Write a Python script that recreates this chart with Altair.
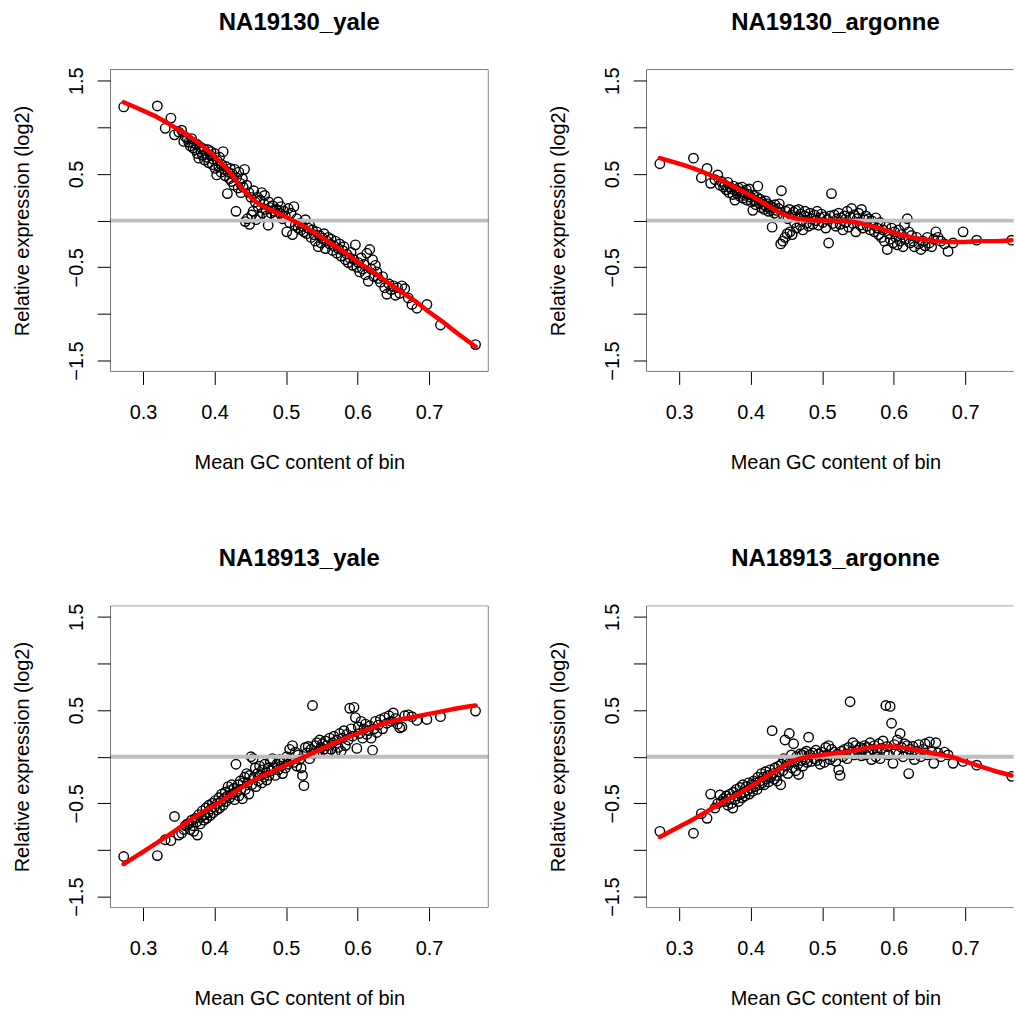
import altair as alt
import pandas as pd

FONT = "Liberation Sans"

# shared bin GC content (x) for all four panels
gc_mean = [
    0.273, 0.320, 0.331, 0.339, 0.344, 0.350, 0.354, 0.357, 0.359, 0.362,
    0.364, 0.366, 0.368, 0.370, 0.371, 0.373, 0.375, 0.376, 0.378, 0.380,
    0.381, 0.383, 0.385, 0.386, 0.388, 0.389, 0.391, 0.392, 0.394, 0.395,
    0.397, 0.398, 0.400, 0.401, 0.403, 0.404, 0.406, 0.407, 0.409, 0.410,
    0.412, 0.413, 0.415, 0.416, 0.418, 0.419, 0.421, 0.422, 0.424, 0.425,
    0.427, 0.428, 0.430, 0.431, 0.433, 0.434, 0.436, 0.437, 0.439, 0.440,
    0.442, 0.443, 0.445, 0.446, 0.448, 0.449, 0.451, 0.452, 0.454, 0.455,
    0.457, 0.458, 0.460, 0.461, 0.463, 0.464, 0.466, 0.467, 0.469, 0.470,
    0.472, 0.473, 0.475, 0.476, 0.478, 0.479,
    0.481, 0.483, 0.485, 0.487, 0.489, 0.491, 0.493, 0.495, 0.497, 0.499,
    0.501, 0.503, 0.505, 0.507, 0.509, 0.511, 0.513, 0.515, 0.517, 0.519,
    0.521, 0.523, 0.525, 0.527, 0.529, 0.531, 0.533, 0.535, 0.537, 0.539,
    0.541, 0.543, 0.545, 0.547, 0.549, 0.551, 0.553, 0.555, 0.557, 0.559,
    0.561, 0.563, 0.565, 0.567, 0.569, 0.571, 0.573, 0.575, 0.577, 0.579,
    0.581, 0.583, 0.585, 0.587, 0.589, 0.591, 0.593, 0.595, 0.597, 0.599,
    0.601, 0.603, 0.605, 0.607, 0.609, 0.611, 0.613, 0.615, 0.617, 0.619,
    0.621, 0.623, 0.625, 0.627, 0.629, 0.632, 0.635, 0.638, 0.641, 0.644,
    0.647, 0.650, 0.653, 0.656, 0.659,
    0.662, 0.666, 0.671, 0.676, 0.683, 0.697, 0.716, 0.765,
]

na19130_yale = [
    1.22, 1.23, 0.99, 1.10, 0.92, 0.95, 0.97, 0.85, 0.90, 0.88,
    0.84, 0.80, 0.88, 0.78, 0.83, 0.76, 0.82, 0.72, 0.67, 0.79,
    0.74, 0.70, 0.77, 0.65, 0.72, 0.68, 0.76, 0.62, 0.70, 0.74,
    0.60, 0.66, 0.72, 0.56, 0.49, 0.64, 0.58, 0.68, 0.52, 0.60,
    0.74, 0.55, 0.48, 0.58, 0.29, 0.52, 0.45, 0.56, 0.42, 0.50,
    0.38, 0.55, 0.10, 0.46, 0.35, 0.52, 0.40, 0.30, 0.45, 0.36,
    0.55, -0.01, 0.38, 0.02, 0.30, -0.04, 0.25, 0.06, 0.10, 0.32,
    0.20, 0.01, 0.25, 0.15, 0.04, 0.22, 0.30, 0.08, 0.18, 0.27,
    0.12, 0.05, -0.05, 0.20, 0.14, 0.08,
    0.16, 0.10, 0.05, 0.12, 0.20, 0.08, 0.15, 0.02, 0.10, 0.05,
    -0.12, 0.13, -0.02, 0.08, -0.15, 0.15, -0.05, 0.02, -0.08, -0.03,
    -0.10, -0.06, -0.12, 0.01, -0.14, -0.08, -0.05, -0.18, -0.10, -0.15,
    -0.22, -0.12, -0.28, -0.16, -0.24, -0.19, -0.14, -0.30, -0.22, -0.18,
    -0.25, -0.20, -0.32, -0.27, -0.22, -0.35, -0.30, -0.25, -0.38, -0.32,
    -0.28, -0.42, -0.36, -0.45, -0.40, -0.34, -0.48, -0.42, -0.26, -0.50,
    -0.45, -0.55, -0.40, -0.52, -0.47, -0.58, -0.35, -0.65, -0.31, -0.52,
    -0.42, -0.60, -0.48, -0.55, -0.62, -0.66, -0.60, -0.72, -0.79, -0.68,
    -0.74, -0.70, -0.80, -0.72, -0.78,
    -0.70, -0.73, -0.83, -0.90, -0.94, -0.90, -1.12, -1.33,
]

na19130_argonne = [
    0.61, 0.67, 0.46, 0.56, 0.40, 0.44, 0.49, 0.38, 0.42, 0.36,
    0.38, 0.33, 0.41, 0.30, 0.36, 0.34, 0.28, 0.37, 0.22, 0.33,
    0.29, 0.35, 0.26, 0.31, 0.36, 0.24, 0.30, 0.27, 0.33, 0.22,
    0.28, 0.34, 0.25, 0.20, 0.11, 0.27, 0.22, 0.17, 0.25, 0.37,
    0.19, 0.23, 0.14, 0.20, 0.17, 0.12, 0.21, 0.15, 0.18, 0.10,
    0.16, 0.12, -0.07, 0.14, 0.08, 0.17, 0.11, 0.06, 0.13, 0.18,
    -0.25, 0.32, -0.22, 0.05, -0.18, 0.10, -0.14, 0.02, 0.12, -0.12,
    0.06, -0.15, 0.09, -0.02, 0.11, -0.08, 0.04, 0.12, -0.05, 0.07,
    0.00, -0.10, 0.05, 0.10, -0.03, 0.04,
    -0.06, 0.08, 0.02, -0.04, 0.06, 0.00, 0.10, -0.05, 0.03, 0.07,
    -0.02, 0.04, -0.08, 0.01, -0.24, 0.05, 0.29, -0.03, 0.06, -0.06,
    0.02, 0.08, -0.04, 0.03, -0.10, 0.05, -0.02, 0.10, -0.07, 0.04,
    0.13, -0.03, 0.06, -0.12, 0.02, 0.08, -0.05, 0.12, -0.08, 0.01,
    0.05, -0.06, 0.02, -0.10, 0.00, -0.04, -0.12, 0.03, -0.08, -0.15,
    -0.02, -0.18, -0.10, -0.22, -0.06, -0.31, -0.14, -0.20, -0.08, -0.24,
    -0.12, -0.18, -0.26, -0.10, -0.22, -0.15, -0.28, -0.05, -0.20, 0.02,
    -0.12, -0.24, -0.16, -0.22, -0.28, -0.18, -0.25, -0.31, -0.22, -0.27,
    -0.18, -0.24, -0.28, -0.20, -0.12,
    -0.18, -0.22, -0.25, -0.33, -0.24, -0.12, -0.21, -0.21,
]

na18913_yale = [
    -1.07, -1.06, -0.89, -0.90, -0.64, -0.84, -0.82, -0.78, -0.74, -0.72,
    -0.72, -0.78, -0.68, -0.74, -0.80, -0.66, -0.70, -0.84, -0.62, -0.72,
    -0.65, -0.58, -0.68, -0.62, -0.55, -0.66, -0.60, -0.52, -0.63, -0.56,
    -0.50, -0.60, -0.54, -0.47, -0.57, -0.50, -0.44, -0.55, -0.48, -0.40,
    -0.52, -0.45, -0.38, -0.48, -0.42, -0.32, -0.44, -0.36, -0.30, -0.40,
    -0.34, -0.46, -0.08, -0.38, -0.30, -0.42, -0.26, -0.35, -0.45, -0.28,
    -0.22, -0.35, -0.18, -0.28, -0.40, -0.20, 0.00, -0.30, -0.02, -0.22,
    -0.12, -0.32, -0.18, -0.26, -0.10, -0.20, -0.28, -0.14, -0.22, -0.08,
    -0.17, -0.25, -0.12, -0.20, -0.05, -0.15,
    -0.02, -0.12, -0.20, -0.08, -0.14, -0.03, -0.10, -0.18, -0.05, -0.12,
    0.00, -0.08, 0.08, -0.04, 0.12, -0.06, 0.05, -0.10, 0.02, -0.03,
    -0.12, -0.20, -0.31, 0.10, 0.04, 0.11, -0.02, 0.08, 0.55, 0.03,
    0.12, 0.15, 0.06, 0.18, 0.10, 0.14, 0.08, 0.17, 0.12, 0.05,
    0.20, 0.08, 0.15, 0.22, 0.05, 0.18, 0.10, 0.25, 0.06, 0.20,
    0.28, 0.12, 0.24, 0.18, 0.52, 0.30, 0.22, 0.53, 0.42, 0.09,
    0.32, 0.25, 0.38, 0.20, 0.30, 0.35, 0.24, 0.28, 0.33, 0.20,
    0.07, 0.30, 0.38, 0.26, 0.34, 0.40, 0.30, 0.42, 0.36, 0.44,
    0.38, 0.47, 0.41, 0.35, 0.31,
    0.32, 0.44, 0.45, 0.43, 0.39, 0.40, 0.43, 0.49,
]

na18913_argonne = [
    -0.80, -0.82, -0.61, -0.66, -0.40, -0.55, -0.50, -0.41, -0.48, -0.45,
    -0.48, -0.42, -0.52, -0.45, -0.40, -0.50, -0.55, -0.38, -0.46, -0.35,
    -0.42, -0.48, -0.33, -0.40, -0.44, -0.30, -0.38, -0.42, -0.32, -0.36,
    -0.28, -0.40, -0.34, -0.30, -0.37, -0.26, -0.32, -0.28, -0.35, -0.22,
    -0.30, -0.26, -0.18, -0.28, -0.22, -0.30, -0.16, -0.24, -0.20, -0.27,
    -0.14, -0.22, 0.28, -0.18, -0.24, -0.12, -0.20, -0.26, -0.10, -0.16,
    -0.30, -0.08, -0.15, -0.02, 0.18, -0.10, -0.04, -0.18, 0.25, -0.06,
    0.02, -0.12, 0.14, -0.05, -0.15, 0.00, -0.08, -0.19, 0.03, -0.04,
    0.02, -0.10, 0.04, -0.03, 0.06, -0.06,
    0.21, 0.02, -0.05, 0.04, -0.02, 0.07, -0.04, 0.03, -0.08, 0.05,
    0.01, -0.06, 0.10, 0.02, 0.12, -0.03, 0.08, 0.00, 0.05, -0.05,
    0.03, -0.14, -0.20, 0.06, 0.00, 0.08, 0.03, -0.02, 0.10, 0.59,
    0.05, 0.15, 0.02, 0.12, 0.07, 0.04, 0.10, 0.01, 0.08, 0.12,
    0.02, 0.10, 0.05, 0.15, -0.03, 0.08, 0.12, 0.00, 0.06, 0.14,
    -0.02, 0.09, 0.17, 0.04, 0.55, 0.11, 0.02, 0.54, 0.36, -0.07,
    0.13, 0.06, 0.18, 0.03, 0.25, 0.10, 0.00, 0.14, 0.05, 0.12,
    -0.18, 0.08, 0.02, 0.11, -0.03, 0.06, 0.13, 0.00, 0.08, 0.14,
    0.02, 0.16, 0.05, -0.07, 0.15,
    0.04, 0.00, 0.05, 0.02, -0.07, -0.05, -0.09, -0.21,
]

# lowess-style fitted curves (red)
fit_gc = [0.273, 0.30, 0.32, 0.34, 0.36, 0.38, 0.40, 0.42, 0.44, 0.46, 0.48, 0.50,
          0.52, 0.54, 0.56, 0.58, 0.60, 0.62, 0.64, 0.66, 0.68, 0.70, 0.72, 0.74, 0.765]
fit_19130_yale = [1.27, 1.18, 1.11, 1.02, 0.93, 0.82, 0.69, 0.53, 0.33, 0.19, 0.11, 0.04,
                  -0.04, -0.13, -0.23, -0.33, -0.44, -0.54, -0.65, -0.76, -0.86, -0.98, -1.09, -1.21, -1.35]
fit_19130_argonne = [0.67, 0.61, 0.56, 0.50, 0.43, 0.35, 0.27, 0.18, 0.09, 0.03, 0.01, 0.00,
                     0.00, -0.01, -0.04, -0.08, -0.13, -0.17, -0.20, -0.22, -0.23, -0.23, -0.22, -0.22, -0.21]
fit_18913_yale = [-1.15, -1.02, -0.92, -0.82, -0.71, -0.61, -0.52, -0.42, -0.32, -0.23, -0.16, -0.09,
                  -0.02, 0.05, 0.12, 0.19, 0.25, 0.31, 0.365, 0.40, 0.43, 0.46, 0.49, 0.52, 0.55]
fit_18913_argonne = [-0.86, -0.75, -0.67, -0.58, -0.49, -0.41, -0.32, -0.22, -0.13, -0.04, 0.00, 0.02,
                     0.04, 0.06, 0.09, 0.11, 0.11, 0.09, 0.06, 0.03, 0.00, -0.05, -0.10, -0.15, -0.20]

panel_titles = ["NA19130_yale", "NA19130_argonne", "NA18913_yale", "NA18913_argonne"]
x_ticks = [0.3, 0.4, 0.5, 0.6, 0.7]
y_ticks = [-1.5, -1.0, -0.5, 0.0, 0.5, 1.0, 1.5]

for ys in (na19130_yale, na19130_argonne, na18913_yale, na18913_argonne):
    assert len(ys) == len(gc_mean), len(ys)

X_MIN, X_MAX_FULL = 0.254, 0.783
Y_MIN, Y_MAX = -1.618, 1.621
FULL_W = 379.6
H = 303
PX_PER_X = FULL_W / (X_MAX_FULL - X_MIN)

y_label_expr = ("datum.value == 1.5 ? '1.5' : datum.value == 0.5 ? '0.5' : "
                "datum.value == -0.5 ? '\u22120.5' : datum.value == -1.5 ? '\u22121.5' : ''")


def panel(title, yvals, fitvals, width):
    xmax = X_MIN + width / PX_PER_X
    shift = (FULL_W - width) / 2.0
    pts = pd.DataFrame({"gc": gc_mean, "expr": yvals})
    fit = pd.DataFrame({"gc": fit_gc, "expr": fitvals})
    zero = pd.DataFrame({"expr": [0.0]})
    xs = alt.Scale(domain=[X_MIN, xmax], nice=False, zero=False)
    ysc = alt.Scale(domain=[Y_MIN, Y_MAX], nice=False, zero=False)
    xax = alt.Axis(values=x_ticks, format=".1f", title="Mean GC content of bin",
                   grid=False, domain=False, tickSize=13, tickColor="black", tickWidth=1,
                   labelFontSize=20, labelColor="black", labelFont=FONT, labelPadding=34,
                   labelBaseline="alphabetic", labelAlign="center", labelFlush=False,
                   labelOverlap=False, titleFontSize=20, titleFontWeight="normal",
                   titleColor="black", titleFont=FONT, titleBaseline="alphabetic",
                   titleAlign="center", titleX=FULL_W / 2.0, titleY=97)
    yax = alt.Axis(values=y_ticks, labelExpr=y_label_expr, title="Relative expression (log2)",
                   grid=False, domain=False, tickSize=13, tickColor="black", tickWidth=1,
                   labelFontSize=20, labelColor="black", labelFont=FONT, labelPadding=15,
                   labelAngle=270, labelAlign="center", labelBaseline="alphabetic",
                   labelFlush=False, labelOverlap=False, titleFontSize=20,
                   titleFontWeight="normal", titleColor="black", titleFont=FONT,
                   titleAngle=270, titleBaseline="alphabetic", titleAlign="center",
                   titleX=-82.3, titleY=H / 2.0)
    X = alt.X("gc:Q", scale=xs, axis=xax)
    Y = alt.Y("expr:Q", scale=ysc, axis=yax)
    points = alt.Chart(pts).mark_point(shape="circle", filled=False, size=90, strokeWidth=1.4,
                                       color="black", opacity=1, clip=True).encode(x=X, y=Y)
    rule = alt.Chart(zero).mark_rule(color="#BEBEBE", strokeWidth=4).encode(y=Y)
    line = alt.Chart(fit).mark_line(color="#FF0000", strokeWidth=4.5, clip=True,
                                    interpolate="monotone", strokeCap="round").encode(x=X, y=Y)
    border = alt.Chart(zero).mark_rect(fillOpacity=0, stroke="black", strokeWidth=1,
                                       clip=True).encode(
        x=alt.value(0), x2=alt.value(FULL_W), y=alt.value(0), y2=alt.value(H))
    return alt.layer(points, rule, line, border).properties(
        width=width, height=H,
        title=alt.TitleParams(text=title, fontSize=24, fontWeight="bold", font=FONT,
                              color="black", baseline="alphabetic", offset=13.3,
                              anchor="middle", dx=shift))


tl = panel(panel_titles[0], na19130_yale, fit_19130_yale, FULL_W)
tr = panel(panel_titles[1], na19130_argonne, fit_19130_argonne, 368.7)
bl = panel(panel_titles[2], na18913_yale, fit_18913_yale, FULL_W)
br = panel(panel_titles[3], na18913_argonne, fit_18913_argonne, 368.7)

chart = alt.concat(tl, tr, bl, br, columns=2,
                   spacing=alt.RowColnumber(row=235, column=158),
                   bounds="flush").properties(
    padding={"left": 11.5, "top": 9, "right": 0, "bottom": 0},
    background="white",
).configure(font=FONT).configure_view(stroke=None)

chart.save("out.html", embed_options={"renderer": "svg", "actions": False})
